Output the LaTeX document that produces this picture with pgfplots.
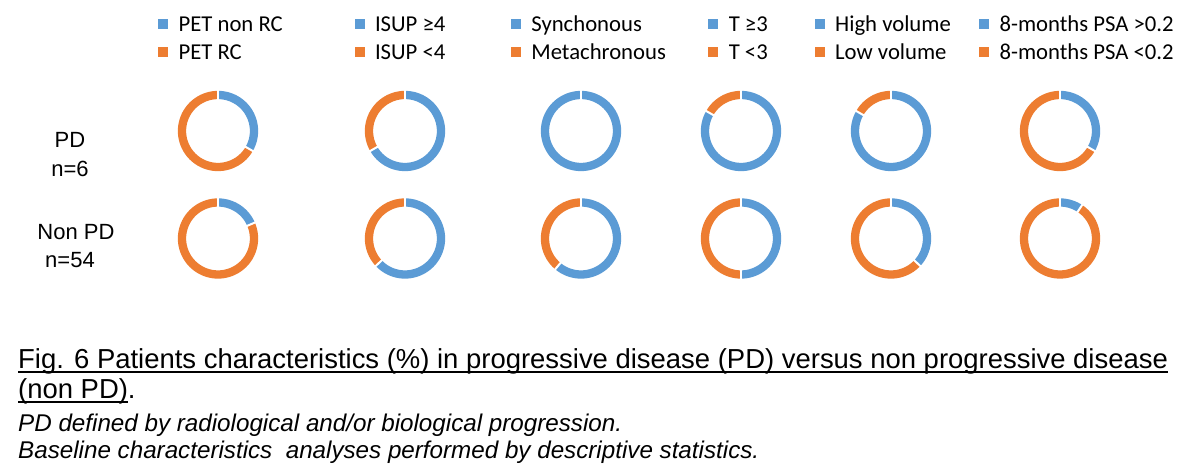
\documentclass[border=0pt]{standalone}
\usepackage{pgfplots}
\pgfplotsset{compat=1.18}
\usepackage{pgfplotstable}
\usepackage{fontspec}
\setmainfont{Liberation Sans}
\newfontfamily\calib{Carlito}
\definecolor{cblue}{HTML}{5B9BD5}
\definecolor{corange}{HTML}{ED7D31}

% share (%) of the blue category in each donut
\pgfplotstableread{
cx pd npd
218 33.3 18.5
405 66.7 63.0
581 100 61.1
741 83.3 50.0
891 83.3 37.0
1060 33.3 9.3
}\donutdata

\newcommand\donut[3]{%
  \pgfmathsetmacro\aEnd{90-3.6*#3}%
  \edef\tmp{\noexpand\addplot[forget plot, draw=cblue, line width=8.3pt, domain=\aEnd:90, samples=90] ({#1+36*cos(x)},{#2+36*sin(x)});}\tmp
  \ifdim #3pt<100pt
    \edef\tmp{\noexpand\addplot[forget plot, draw=corange, line width=8.3pt, domain=-270:\aEnd, samples=90] ({#1+36*cos(x)},{#2+36*sin(x)});}\tmp
    \pgfmathsetmacro\xa{#1+30*cos(\aEnd)}%
    \pgfmathsetmacro\ya{#2+30*sin(\aEnd)}%
    \pgfmathsetmacro\xb{#1+42*cos(\aEnd)}%
    \pgfmathsetmacro\yb{#2+42*sin(\aEnd)}%
    \edef\tmp{\noexpand\addplot[forget plot, draw=white, line width=2pt] coordinates {(\xa,\ya) (\xb,\yb)};}\tmp
  \fi
  \pgfmathsetmacro\ya{#2+30}%
  \pgfmathsetmacro\yb{#2+42}%
  \edef\tmp{\noexpand\addplot[forget plot, draw=white, line width=2pt] coordinates {(#1,\ya) (#1,\yb)};}\tmp
}
\newcommand\ul[1]{\setbox0=\hbox{#1}\rlap{\rule[-4.7pt]{\wd0}{1.5pt}}\box0}

\pgfplotsset{
  bsq/.style={legend image code/.code={\fill[cblue] (0pt,-2.8pt) rectangle (9pt,6.2pt);}},
  osq/.style={legend image code/.code={\fill[corange] (0pt,-2.8pt) rectangle (9pt,6.2pt);}},
}

\begin{document}
\begin{tikzpicture}
\useasboundingbox (0,0) rectangle (1200pt,476pt);
\begin{axis}[
  at={(0,0)}, anchor=south west,
  width=1200pt, height=476pt, scale only axis,
  xmin=0, xmax=1200, ymin=-476, ymax=0,
  hide axis, clip=false,
  legend columns=6,
  legend cell align=left,
  legend style={at={(axis cs:158,-39.5)}, anchor=west, draw=none, fill=none,
    inner sep=0pt, row sep=7.7pt, column sep=0pt,
    font=\calib\fontsize{22.7}{25}\selectfont,
    nodes={inner sep=0pt, text height=16pt, text depth=4pt},
    /tikz/every odd column/.append style={column sep=11pt}},
]
\pgfplotsforeachungrouped \i in {0,...,5}{%
  \pgfplotstablegetelem{\i}{cx}\of\donutdata \let\cx\pgfplotsretval
  \pgfplotstablegetelem{\i}{pd}\of\donutdata \let\vpd\pgfplotsretval
  \pgfplotstablegetelem{\i}{npd}\of\donutdata \let\vnpd\pgfplotsretval
  \donut{\cx}{-131}{\vpd}
  \donut{\cx}{-238.5}{\vnpd}
}
\addlegendimage{bsq}\addlegendentry{\makebox[176pt][l]{PET non RC}}
\addlegendimage{bsq}\addlegendentry{\makebox[136pt][l]{ISUP ≥4}}
\addlegendimage{bsq}\addlegendentry{\makebox[177pt][l]{Synchonous}}
\addlegendimage{bsq}\addlegendentry{\makebox[86pt][l]{T ≥3}}
\addlegendimage{bsq}\addlegendentry{\makebox[144pt][l]{High volume}}
\addlegendimage{bsq}\addlegendentry{\makebox[170pt][l]{8-months PSA >0.2}}
\addlegendimage{osq}\addlegendentry{PET RC}
\addlegendimage{osq}\addlegendentry{ISUP <4}
\addlegendimage{osq}\addlegendentry{Metachronous}
\addlegendimage{osq}\addlegendentry{T <3}
\addlegendimage{osq}\addlegendentry{Low volume}
\addlegendimage{osq}\addlegendentry{8-months PSA <0.2}

\begin{scope}[every node/.style={inner sep=0pt, font=\fontsize{22}{26}\selectfont, anchor=base}]
\node at (axis cs:70,-148) {PD};
\node at (axis cs:70,-177) {n=6};
\node at (axis cs:76,-240) {Non PD};
\node at (axis cs:70,-268) {n=54};
\end{scope}

\node[inner sep=0pt, anchor=base west, font=\fontsize{27.45}{31}\selectfont] at (axis cs:18,-368.3)
  {\ul{Fig. 6 Patients characteristics (\%) in progressive disease (PD) versus non progressive disease}};
\node[inner sep=0pt, anchor=base west, font=\fontsize{27.45}{31}\selectfont] at (axis cs:18,-398.3)
  {\ul{(non PD)}.};
\node[inner sep=0pt, anchor=base west, font=\itshape\fontsize{24.2}{28}\selectfont] at (axis cs:18,-431.7)
  {PD defined by radiological and/or biological progression.};
\node[inner sep=0pt, anchor=base west, font=\itshape\fontsize{24.2}{28}\selectfont] at (axis cs:18,-458.3)
  {Baseline characteristics\ \ analyses performed by descriptive statistics.};
\end{axis}
\end{tikzpicture}
\end{document}
